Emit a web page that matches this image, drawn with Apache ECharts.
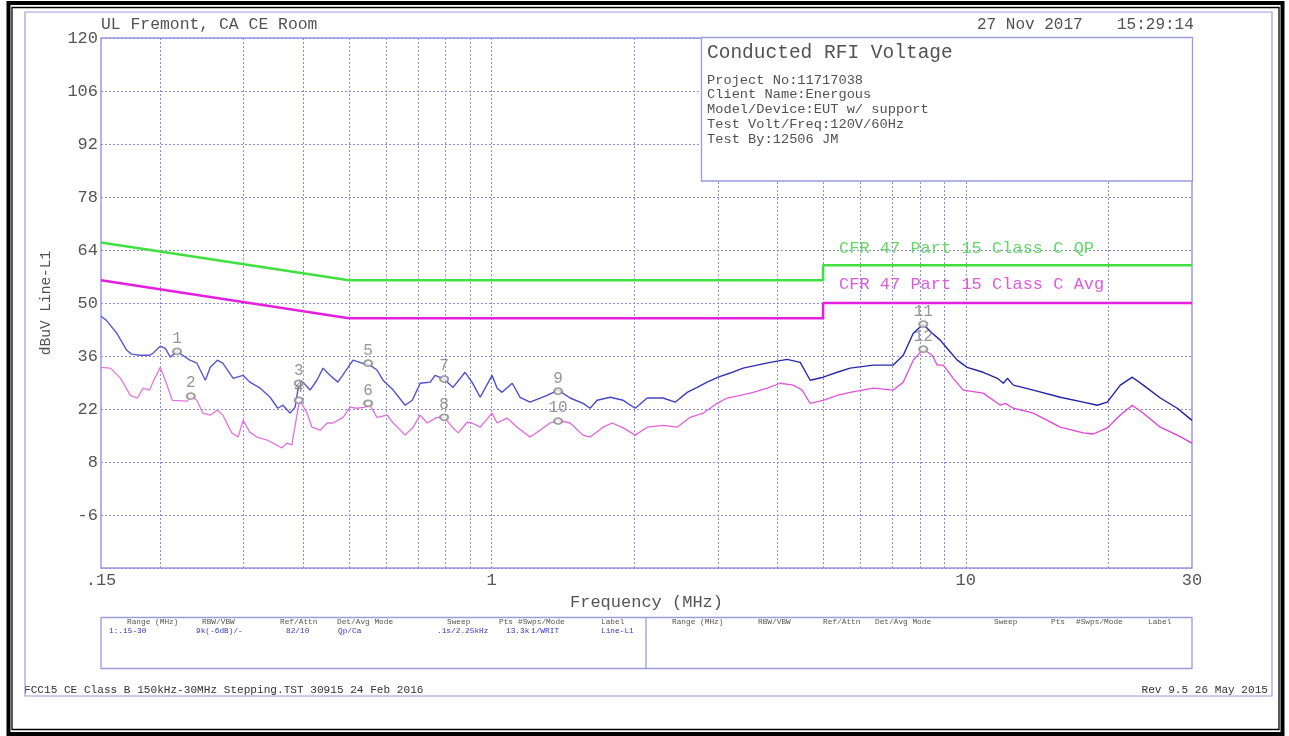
<!DOCTYPE html>
<html>
<head>
<meta charset="utf-8">
<script src="https://cdn.jsdelivr.net/npm/echarts@6/dist/echarts.min.js"></script>
<style>
  html, body { margin: 0; padding: 0; background: #ffffff; }
  #chart { width: 1289px; height: 736px; }
</style>
</head>
<body>
<div id="chart"></div>
<script>
// Quasi-peak sweep (MHz, dBuV)
const qpFreq = [0.150,0.154,0.162,0.170,0.174,0.181,0.190,0.193,0.200,0.205,
  0.210,0.217,0.223,0.231,0.239,0.249,0.255,0.264,0.271,0.285,
  0.299,0.309,0.325,0.341,0.354,0.363,0.376,0.385,0.391,0.400,
  0.414,0.428,0.441,0.456,0.474,0.498,0.510,0.533,0.554,0.573,
  0.590,0.620,0.657,0.680,0.707,0.742,0.760,0.794,0.829,0.879,
  0.909,0.946,1.002,1.027,1.052,1.105,1.148,1.205,1.309,1.381,
  1.464,1.559,1.613,1.669,1.778,1.894,2.008,2.129,2.300,2.438,
  2.585,2.713,2.848,3.005,3.185,3.392,3.631,3.868,4.201,4.475,
  4.697,5.003,5.356,5.704,6.381,7.032,7.382,7.749,8.134,8.497,
  8.834,9.140,9.595,10.07,10.88,11.66,12.00,12.24,12.60,13.88,
  15.82,17.69,18.94,19.88,21.18,22.45,23.68,25.72,27.93,30.0];
const qpLevel = [46.5,45.4,42.0,37.5,36.5,36.2,36.2,36.7,38.6,38.0,
  35.7,37.2,36.2,34.9,34.1,29.6,33.0,34.9,34.1,30.1,
  30.9,29.1,27.5,25.1,22.2,23.0,20.9,22.5,27.7,29.1,
  27.0,29.6,32.8,30.9,29.1,33.0,34.9,34.1,33.6,32.3,
  29.6,27.0,23.0,24.3,28.8,29.1,30.9,29.9,27.7,31.7,
  29.1,25.1,30.9,27.5,26.4,28.8,25.1,23.8,25.6,27.0,
  24.9,23.5,22.2,24.3,25.1,24.3,22.2,24.9,24.9,23.8,
  26.4,27.7,29.1,30.4,31.5,32.8,33.6,34.3,35.1,34.3,
  29.6,30.4,31.7,32.8,33.6,33.6,36.2,42.0,44.4,42.0,
  40.2,38.0,34.9,33.0,31.7,30.1,28.8,30.1,28.3,27.0,
  25.1,23.8,23.0,23.8,28.3,30.4,28.3,24.9,22.2,19.0];

// Average sweep (MHz, dBuV)
const avgFreq = [0.150,0.157,0.165,0.173,0.179,0.184,0.190,0.193,0.200,0.205,
  0.212,0.228,0.232,0.239,0.246,0.255,0.264,0.271,0.283,0.292,
  0.299,0.309,0.320,0.336,0.346,0.361,0.370,0.379,0.391,0.394,
  0.408,0.418,0.435,0.450,0.463,0.486,0.503,0.520,0.541,0.554,
  0.573,0.602,0.620,0.657,0.683,0.707,0.731,0.767,0.794,0.829,
  0.850,0.888,0.909,0.946,1.002,1.027,1.078,1.132,1.205,1.265,
  1.328,1.381,1.464,1.559,1.613,1.719,1.796,1.894,2.008,2.129,
  2.300,2.462,2.622,2.793,2.990,3.139,3.343,3.561,3.812,4.060,
  4.325,4.518,4.697,5.003,5.356,5.704,6.381,7.032,7.382,7.749,
  8.134,8.497,8.706,8.964,9.410,9.879,10.88,11.83,12.12,12.60,
  13.88,15.82,17.69,18.57,19.88,21.18,22.45,23.68,25.72,27.93,30.0];
const avgLevel = [33.0,32.8,30.1,25.6,24.9,27.5,27.0,29.1,33.0,29.6,
  24.3,24.1,25.4,24.3,20.9,20.4,21.7,20.4,15.7,14.6,
  19.0,15.9,14.6,13.8,13.0,11.7,13.0,12.5,22.5,24.3,
  20.9,17.2,16.4,18.3,18.3,19.8,22.5,22.2,22.5,23.0,
  19.8,20.4,18.3,15.1,17.2,20.4,18.3,19.8,19.8,17.0,
  15.7,18.5,18.3,17.2,20.9,18.3,19.6,17.2,14.6,16.4,
  18.3,19.0,18.3,15.1,14.6,17.2,18.3,17.0,15.1,17.2,
  17.7,17.2,19.8,20.9,23.5,24.9,25.6,26.4,27.5,28.8,
  28.3,27.0,23.5,24.3,25.6,26.4,27.5,27.0,29.1,34.9,
  37.8,36.2,33.6,33.6,30.1,27.0,26.2,23.0,23.5,22.2,
  20.9,17.2,15.7,15.4,17.0,20.4,23.0,20.9,17.2,15.1,13.0];

// Limit lines
const qpLimitFreq = [0.15, 0.5, 5, 5, 30];
const qpLimitLevel = [66, 56, 56, 60, 60];
const avgLimitFreq = [0.15, 0.5, 5, 5, 30];
const avgLimitLevel = [56, 46, 46, 50, 50];

// Numbered markers
const markerIds = ['1','2','3','4','5','6','7','8','9','10','11','12'];
const markerFreq = [0.217,0.232,0.392,0.392,0.549,0.549,0.794,0.794,1.381,1.381,8.134,8.134];
const markerLevel = [37.2,25.4,28.8,24.3,34.1,23.5,29.9,19.8,26.7,18.8,44.4,37.8];

// Axis grid
const freqGrid = [0.2,0.3,0.4,0.5,0.6,0.7,0.8,0.9,1,2,3,4,5,6,7,8,9,10,20];
const levelMin = -20, levelMax = 120, levelStep = 14;

// Page texts
const siteText = 'UL Fremont, CA CE Room';
const dateText = '27 Nov 2017';
const timeText = '15:29:14';
const infoTitle = 'Conducted RFI Voltage';
const infoLines = ['Project No:11717038', 'Client Name:Energous', 'Model/Device:EUT w/ support',
  'Test Volt/Freq:120V/60Hz', 'Test By:12506 JM'];
const qpLimitName = 'CFR 47 Part 15 Class C QP';
const avgLimitName = 'CFR 47 Part 15 Class C Avg';
const tableHeads = ['Range (MHz)', 'RBW/VBW', 'Ref/Attn', 'Det/Avg Mode', 'Sweep', 'Pts', '#Swps/Mode', 'Label'];
const tableRow = ['1:.15-30', '9k(-6dB)/-', '82/10', 'Qp/Ca', '.1s/2.25kHz', '13.3k', '1/WRIT', 'Line-L1'];
const footLeft = 'FCC15 CE Class B 150kHz-30MHz Stepping.TST 30915 24 Feb 2016';
const footRight = 'Rev 9.5 26 May 2015';

const MONO = "'Liberation Mono', 'DejaVu Sans Mono', monospace";
const GRID_COLOR = '#8d8de6';
const FRAME_BLUE = '#9b9be0';
const TEXT_GRAY = '#525252';

const pairs = (xs, ys) => xs.map((x, i) => [x, ys[i]]);

const headX1 = [127, 202, 280, 337, 447, 499, 518, 601];
const rowX1 = [109, 196, 286, 338, 437, 506, 531, 601];
const headX2 = [672, 758, 823, 875, 994, 1051, 1076, 1148];

function txt(text, x, y, size, color, align) {
  return {
    type: 'text', z: 20,
    style: { text: text, x: x, y: y, fill: color, font: size + 'px ' + MONO,
      textAlign: align || 'left', align: align || 'left',
      textVerticalAlign: 'middle', verticalAlign: 'middle' }
  };
}

const graphics = [
  // page frames: heavy black double border, thin blue inner border
  { type: 'rect', z: 30, shape: { x: 8.5, y: 3, width: 1274, height: 731 },
    style: { fill: 'none', stroke: '#000', lineWidth: 4 } },
  { type: 'rect', z: 30, shape: { x: 12, y: 7.5, width: 1267, height: 722 },
    style: { fill: 'none', stroke: '#000', lineWidth: 1.3 } },
  { type: 'rect', z: 30, shape: { x: 25, y: 12, width: 1247, height: 684 },
    style: { fill: 'none', stroke: FRAME_BLUE, lineWidth: 1.2 } },
  txt(siteText, 101, 25, 16.4, TEXT_GRAY),
  txt(dateText, 977, 25, 16, TEXT_GRAY),
  txt(timeText, 1117, 25, 16, TEXT_GRAY),
  // info box
  { type: 'rect', z: 15, shape: { x: 701.5, y: 37.5, width: 491, height: 143.5 },
    style: { fill: '#fff', stroke: FRAME_BLUE, lineWidth: 1.3 } },
  txt(infoTitle, 707, 53, 19.5, TEXT_GRAY),
  ...infoLines.map((s, i) => txt(s, 707, 80 + i * 14.8, 13.7, TEXT_GRAY)),
  // limit names
  txt(qpLimitName, 839, 248, 17, '#66d866'),
  txt(avgLimitName, 839, 284, 17, '#dd5cdd'),
  // settings table
  { type: 'rect', z: 15, shape: { x: 101, y: 617.5, width: 1091, height: 51 },
    style: { fill: 'none', stroke: FRAME_BLUE, lineWidth: 1.3 } },
  { type: 'line', z: 15, shape: { x1: 646, y1: 617.5, x2: 646, y2: 668.5 },
    style: { stroke: FRAME_BLUE, lineWidth: 1.3 } },
  ...tableHeads.map((s, i) => txt(s, headX1[i], 622, 7.8, '#555')),
  ...tableRow.map((s, i) => txt(s, rowX1[i], 631, 7.8, '#3535c8')),
  ...tableHeads.map((s, i) => txt(s, headX2[i], 622, 7.8, '#555')),
  // footer
  txt(footLeft, 24, 690, 11.1, '#333'),
  txt(footRight, 1268, 690, 11.1, '#333', 'right')
];

const chart = echarts.init(document.getElementById('chart'), null, { renderer: 'canvas' });

const qpColor = new echarts.graphic.LinearGradient(0, 0, 1, 0, [
  { offset: 0, color: '#5b5bd6' }, { offset: 0.5, color: '#4646c6' },
  { offset: 0.6, color: '#2a2ab2' }, { offset: 1, color: '#1e1ea4' }
]);
const avgColor = new echarts.graphic.LinearGradient(0, 0, 1, 0, [
  { offset: 0, color: '#e27ae0' }, { offset: 0.55, color: '#e060dc' },
  { offset: 1, color: '#df3ad8' }
]);

const option = {
  animation: false,
  backgroundColor: '#ffffff',
  grid: { left: 101, top: 38, width: 1091, height: 530, show: true,
    borderColor: FRAME_BLUE, borderWidth: 1.5, backgroundColor: 'transparent' },
  xAxis: {
    type: 'log', logBase: 10, min: 0.15, max: 30,
    axisLine: { show: false }, axisTick: { show: false }, splitLine: { show: false },
    axisLabel: {
      color: '#555', fontFamily: MONO, fontSize: 17, margin: 4,
      showMinLabel: true, showMaxLabel: true,
      formatter: function (v) {
        const s = String(+Number(v).toPrecision(3));
        return s.indexOf('0.') === 0 ? s.slice(1) : s;
      }
    },
    name: 'Frequency (MHz)', nameLocation: 'middle', nameGap: 24,
    nameTextStyle: { color: '#555', fontFamily: MONO, fontSize: 17 }
  },
  yAxis: {
    type: 'value', min: levelMin, max: levelMax, interval: levelStep,
    axisLine: { show: false }, axisTick: { show: false },
    splitLine: { show: true, lineStyle: { color: GRID_COLOR, type: [2, 2], width: 1 } },
    axisLabel: {
      color: '#555', fontFamily: MONO, fontSize: 17, margin: 3,
      formatter: function (v) { return v === levelMin ? '' : String(v); }
    },
    name: 'dBuV Line-L1', nameLocation: 'middle', nameGap: 47, nameRotate: 90,
    nameTextStyle: { color: TEXT_GRAY, fontFamily: MONO, fontSize: 14.5 }
  },
  graphic: { elements: graphics },
  series: [
    {
      name: 'grid', type: 'line', data: [], silent: true,
      markLine: {
        silent: true, symbol: ['none', 'none'], z: 1,
        label: { show: false },
        lineStyle: { color: GRID_COLOR, type: [2, 2], width: 1 },
        data: freqGrid.map(f => ({ xAxis: f }))
      }
    },
    {
      name: 'Average', type: 'line', data: pairs(avgFreq, avgLevel), showSymbol: false, z: 3,
      lineStyle: { color: avgColor, width: 1.3 }, silent: true
    },
    {
      name: 'Quasi-peak', type: 'line', data: pairs(qpFreq, qpLevel), showSymbol: false, z: 4,
      lineStyle: { color: qpColor, width: 1.4 }, silent: true
    },
    {
      name: qpLimitName, type: 'line', data: pairs(qpLimitFreq, qpLimitLevel), showSymbol: false, z: 5,
      lineStyle: { color: '#3fe03f', width: 2.5 }, silent: true
    },
    {
      name: avgLimitName, type: 'line', data: pairs(avgLimitFreq, avgLimitLevel), showSymbol: false, z: 5,
      lineStyle: { color: '#e31fe0', width: 2.5 }, silent: true
    },
    {
      name: 'markers', type: 'scatter', z: 6, silent: true,
      data: markerFreq.map((f, i) => [f, markerLevel[i], markerIds[i]]),
      symbol: 'emptyCircle', symbolSize: [8, 6],
      itemStyle: { color: '#8a8a8a', borderColor: '#8a8a8a', borderWidth: 1.3 },
      label: {
        show: true, position: 'top', distance: 1,
        formatter: p => p.data[2],
        color: '#7a7a7a', fontFamily: MONO, fontSize: 16
      }
    }
  ]
};

chart.setOption(option);
</script>
</body>
</html>
